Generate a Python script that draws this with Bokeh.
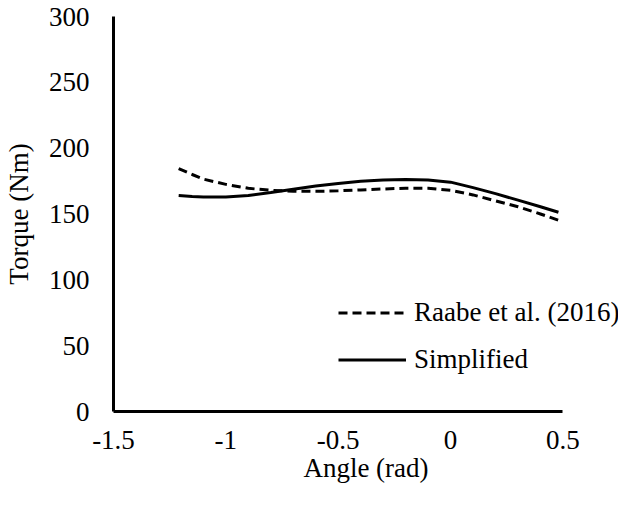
from bokeh.plotting import figure
from bokeh.models import Range1d, FixedTicker, Legend, LegendItem
from bokeh.embed import file_html
from bokeh.resources import INLINE

# Data
angle = [-1.21, -1.15, -1.1, -1.0, -0.9, -0.8, -0.7, -0.6, -0.5, -0.4,
         -0.3, -0.2, -0.1, 0.0, 0.1, 0.2, 0.3, 0.4, 0.48]
raabe = [184.5, 180.0, 176.5, 172.5, 169.5, 168.0, 167.3, 167.2, 167.6, 168.3,
         169.0, 169.6, 169.6, 168.0, 164.5, 160.0, 155.5, 150.0, 145.3]
simplified = [164.0, 163.2, 162.9, 162.9, 164.0, 166.3, 168.8, 171.2, 173.2, 174.8,
              175.8, 176.2, 175.8, 174.2, 170.0, 165.5, 160.5, 155.5, 151.3]
x_ticks = [-1.5, -1.0, -0.5, 0.0, 0.5]
x_tick_labels = ["-1.5", "-1", "-0.5", "0", "0.5"]
y_ticks = [0, 50, 100, 150, 200, 250, 300]
series_names = ["Raabe et al. (2016)", "Simplified"]

FONT = "Liberation Serif"
FS = "27px"

W, H = 618, 493
LEFT = 109
TOP = 16
BOTTOM = 82
PX_PER_UNIT = 226.5
x_end = -1.5 + (W - LEFT) / PX_PER_UNIT

p = figure(width=W, height=H, output_backend="svg", toolbar_location=None,
           x_range=Range1d(-1.5, x_end), y_range=Range1d(0, 300),
           min_border_left=LEFT, min_border_right=0, min_border_top=TOP,
           min_border_bottom=BOTTOM)
p.outline_line_color = None
p.xgrid.grid_line_color = None
p.ygrid.grid_line_color = None
p.background_fill_color = "white"
p.border_fill_color = "white"

r1 = p.line(angle, raabe, line_color="black", line_width=3, line_dash="9 5")
r2 = p.line(angle, simplified, line_color="black", line_width=3)

for ax in (p.xaxis[0], p.yaxis[0]):
    ax.axis_line_color = "black"
    ax.axis_line_width = 3
    ax.major_tick_line_color = None
    ax.minor_tick_line_color = None
    ax.major_tick_out = 0
    ax.major_tick_in = 0
    ax.minor_tick_out = 0
    ax.minor_tick_in = 0
    ax.major_label_text_font = FONT
    ax.major_label_text_font_size = FS
    ax.major_label_text_color = "black"
    ax.axis_label_text_font = FONT
    ax.axis_label_text_font_size = FS
    ax.axis_label_text_font_style = "normal"
    ax.axis_label_text_color = "black"

p.xaxis.bounds = (x_ticks[0], x_ticks[-1])
p.xaxis.ticker = FixedTicker(ticks=x_ticks)
p.xaxis.major_label_overrides = {t: l for t, l in zip(x_ticks, x_tick_labels)}
p.yaxis.ticker = FixedTicker(ticks=y_ticks)
p.xaxis.axis_label = "Angle (rad)"
p.yaxis.axis_label = "Torque (Nm)"
p.xaxis.major_label_standoff = 19
p.yaxis.major_label_standoff = 24
p.xaxis.axis_label_standoff = 1
p.yaxis.axis_label_standoff = 12

legend = Legend(items=[LegendItem(label=series_names[0], renderers=[r1]),
                       LegendItem(label=series_names[1], renderers=[r2])],
                location=(225, 36))
legend.border_line_color = None
legend.background_fill_alpha = 0
legend.padding = 0
legend.margin = 0
legend.spacing = 16
legend.glyph_width = 68
legend.glyph_height = 31
legend.label_height = 31
legend.label_standoff = 8
legend.label_text_font = FONT
legend.label_text_font_size = FS
legend.label_text_color = "black"
p.add_layout(legend, "center")

open("out.html", "w").write(file_html(p, INLINE))
